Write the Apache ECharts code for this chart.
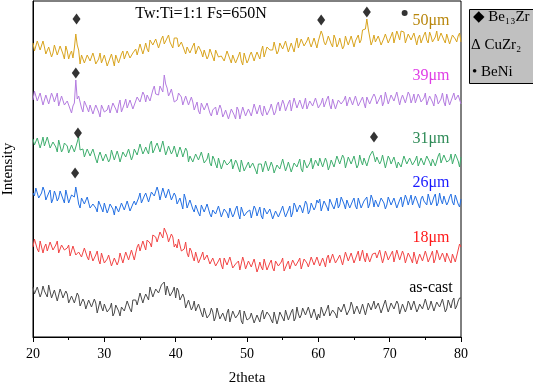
<!DOCTYPE html>
<html>
<head>
<meta charset="utf-8">
<script src="https://cdn.jsdelivr.net/npm/echarts/dist/echarts.min.js"></script>
<style>
  html, body { margin: 0; padding: 0; background: #fff; }
  #xrd { width: 533px; height: 385px; }
</style>
</head>
<body>
<div id="xrd"></div>
<script>
var myChart = echarts.init(document.getElementById('xrd'));

// 2theta sampling: 20 -> 80 deg, one point every 0.2 deg
var thetaStart = 20;
var thetaStep = 0.2;

// intensities (arbitrary units, stacked offsets as in the figure)
var s50 = [294,286,286,296,295,287,287,296,290,283,283,290,291,280,284,292,292,282,284,291,
  287,283,278,291,286,278,283,286,279,289,303,292,287,273,282,284,274,275,282,284,
  276,274,284,279,273,271,278,284,274,272,282,281,271,275,279,283,277,271,282,281,
  274,274,283,286,278,276,286,286,279,277,284,286,288,282,280,293,292,283,288,294,
  288,285,297,295,292,291,298,300,289,288,298,301,293,293,299,302,295,292,289,299,
  299,299,290,288,295,296,287,283,290,292,284,284,291,294,283,285,291,293,285,280,
  287,289,278,281,288,289,280,276,287,288,280,278,281,283,276,274,286,287,278,274,
  282,282,274,275,281,285,276,272,284,285,274,277,282,285,287,276,281,285,286,278,
  286,291,280,281,290,292,287,285,287,295,296,283,286,294,292,288,288,296,295,285,
  285,294,294,285,293,299,289,289,298,298,291,292,296,300,294,290,290,299,300,289,
  296,298,306,302,295,292,296,301,299,293,290,302,298,290,293,299,300,288,291,301,
  296,292,290,301,299,290,296,299,302,294,297,307,305,308,318,308,308,292,296,302,
  295,295,301,303,292,290,299,303,301,294,294,301,305,294,296,306,302,297,306,307,
  305,294,293,303,301,297,296,304,303,292,299,302,294,295,302,305,297,294,305,301,
  295,293,300,306,296,296,304,303,297,294,303,305,293,292,302,302,298,295,301,304,295];
var s39 = [237,246,245,236,238,244,243,232,233,242,240,233,234,244,240,235,237,244,231,230,
  241,239,232,231,236,237,228,224,231,234,257,238,241,235,229,225,236,237,229,225,
  232,232,223,224,232,234,225,220,232,232,225,224,227,232,224,222,234,231,228,224,
  232,237,225,227,233,238,229,230,237,239,228,228,236,240,241,235,235,245,242,235,
  242,244,236,237,247,251,243,241,242,251,252,245,262,253,249,241,244,248,249,235,
  236,237,244,242,240,232,234,241,241,232,231,240,235,227,231,235,226,223,234,235,
  227,225,234,232,224,221,227,228,230,222,221,232,228,220,223,227,229,218,220,228,
  225,222,218,230,227,218,224,230,229,221,222,228,227,221,221,233,232,223,224,232,
  224,221,231,231,222,225,228,233,231,222,225,232,235,226,227,237,233,226,230,234,
  237,226,226,239,234,229,229,237,237,228,233,239,228,226,236,236,231,229,239,238,
  229,228,234,239,230,230,238,241,232,228,238,236,228,227,237,239,233,231,237,241,
  231,233,240,242,232,230,241,239,231,230,237,240,234,229,240,241,233,234,240,243,
  240,233,233,239,242,231,235,245,239,233,233,242,242,236,235,245,245,232,238,242,
  241,234,233,245,242,234,238,243,234,232,243,240,235,235,239,244,232,232,241,241,
  235,231,243,240,233,235,238,244,235,231,243,243,232,234,240,244,237,235,242,243,233];
var s31 = [198,192,191,199,199,189,194,200,191,192,200,201,189,188,195,197,190,185,197,198,
  185,188,194,196,191,184,186,192,194,185,187,195,200,187,185,188,180,178,188,187,
  181,180,188,187,178,174,181,185,184,176,175,183,183,175,178,187,185,177,176,186,
  181,175,175,185,184,180,181,188,187,177,181,188,187,182,181,193,193,183,186,190,
  186,183,193,196,184,187,191,194,193,185,186,196,196,182,186,191,190,183,186,191,
  191,180,179,190,186,180,180,189,186,175,181,182,175,173,183,184,177,175,185,184,
  174,175,178,184,174,171,181,178,173,169,179,178,168,167,177,178,172,170,175,178,
  168,168,177,174,169,165,177,178,166,166,172,175,169,168,174,176,167,163,173,173,
  173,165,166,176,175,166,168,175,171,164,165,172,174,168,168,178,177,166,170,175,
  173,165,165,174,174,170,172,178,168,165,177,177,169,168,174,179,168,170,177,178,
  171,179,179,170,170,179,175,167,171,177,179,170,169,181,177,173,174,182,179,169,
  170,180,179,173,174,181,181,169,172,182,176,172,179,179,171,171,181,183,186,181,
  175,180,182,173,176,182,180,169,170,181,178,173,172,180,179,169,175,177,170,170,
  181,182,173,171,179,181,172,173,177,181,171,169,179,180,172,174,181,182,175,171,
  178,180,171,171,181,184,174,173,182,182,175,175,177,183,173,172,183,181,176,170,180];
var s26 = [144,141,149,151,139,141,144,150,146,137,138,144,147,134,138,146,142,136,139,146,
  145,138,134,147,141,134,136,142,143,140,150,142,133,129,139,140,133,131,140,139,
  129,128,133,134,129,125,136,138,129,125,134,134,124,128,133,135,128,122,131,132,
  125,124,134,136,127,126,136,136,126,126,133,136,132,132,139,144,134,133,141,144,
  143,135,137,145,147,141,141,150,145,137,139,149,148,139,140,148,148,137,139,144,
  141,133,131,139,139,128,143,138,129,130,137,138,128,125,132,133,124,121,132,133,
  125,124,133,132,123,120,127,128,123,122,131,133,120,120,128,128,124,119,129,129,
  120,123,128,131,123,118,130,130,121,121,125,127,127,119,118,131,128,121,122,130,
  121,118,129,128,123,122,128,129,118,117,126,127,120,120,127,131,125,120,120,127,
  131,120,124,134,131,125,125,132,129,124,124,136,133,123,126,134,136,127,130,137,
  134,138,126,128,136,138,130,126,138,136,131,128,133,139,129,132,140,141,133,128,
  137,138,129,131,136,139,131,128,139,141,129,131,136,137,140,129,133,142,138,130,
  137,138,130,131,139,141,134,128,132,140,141,132,131,139,137,129,133,137,140,130,
  129,142,138,132,137,142,132,133,141,141,133,129,138,141,136,135,132,143,141,132,
  135,140,143,131,134,144,137,133,141,142,132,135,140,143,135,132,142,141,133,130,138];
var s18 = [90,98,96,88,85,96,94,84,90,93,86,85,95,96,87,87,92,96,84,83,
  92,92,87,85,89,92,81,80,91,92,82,81,85,86,80,78,89,90,80,77,
  86,85,76,77,82,86,77,73,84,84,74,75,78,82,80,71,71,79,79,72,
  76,84,84,74,76,85,84,77,77,87,85,77,84,90,93,86,86,96,95,87,
  97,97,94,90,102,104,100,95,94,105,105,99,109,107,102,95,94,103,100,90,
  93,89,98,98,86,87,88,95,84,80,89,86,80,76,85,86,74,76,81,85,
  77,76,82,84,73,72,79,79,71,70,76,79,72,68,79,80,72,71,80,80,
  69,70,73,75,76,67,69,80,75,68,66,76,76,70,71,78,77,65,69,75,
  70,67,78,78,67,68,74,77,69,66,76,74,71,69,75,79,66,67,73,76,
  68,66,77,75,71,71,76,79,68,66,78,79,74,70,71,80,81,72,73,80,
  79,71,71,79,75,70,79,82,74,75,83,85,74,73,79,82,82,72,73,85,
  84,76,77,84,82,74,76,82,86,76,77,87,79,75,84,83,75,74,83,85,
  84,79,78,87,85,74,79,86,82,77,75,83,86,75,77,87,85,77,76,86,
  82,74,79,84,83,78,74,85,84,73,78,83,85,76,77,86,81,75,76,82,
  86,74,78,87,83,77,75,84,80,75,84,86,77,74,83,84,75,77,87,93,90];
var sCast = [50,43,44,50,50,40,44,51,46,43,40,52,50,39,40,47,48,36,38,48,
  44,39,40,46,43,34,33,41,42,34,35,44,41,31,32,38,35,28,29,37,
  38,30,30,38,34,24,26,36,30,26,33,32,25,23,29,34,21,24,32,33,
  26,21,30,32,26,27,36,35,28,25,37,37,37,32,33,44,43,34,39,43,
  41,37,50,51,40,42,48,50,44,42,52,54,55,42,51,51,41,43,46,50,
  39,49,46,37,36,43,39,29,29,37,36,27,30,36,26,27,33,34,24,20,
  29,29,19,21,23,29,25,16,20,29,27,18,18,24,23,16,24,28,15,16,
  26,24,19,17,23,27,16,13,26,25,17,17,19,24,24,14,15,22,22,15,
  23,27,18,16,25,26,21,17,14,25,24,13,18,25,23,19,16,27,25,17,
  21,25,28,16,19,30,23,19,22,29,29,22,21,30,28,19,18,28,26,17,
  23,19,30,31,21,22,28,32,21,20,27,28,23,19,30,31,25,23,33,33,
  22,25,28,35,31,23,24,31,31,23,23,33,33,22,28,34,35,27,27,36,
  28,26,34,32,24,24,33,37,30,25,26,34,35,28,28,36,33,23,25,33,
  34,25,29,36,33,27,25,36,36,25,28,33,32,28,27,38,38,27,30,36,
  36,26,27,35,34,30,29,38,37,25,28,37,33,29,36,39,28,31,36,39,39];

// phase markers [2theta, height]
var be13zr = [[26.1,318],[60.4,317],[66.8,325],[26.0,264],[26.3,204],[67.8,200],[25.9,164]];
var cuzr2 = [[53.4,308]];
var beni = [[72.1,324]];

var sampleNames = ['50μm', '39μm', '31μm', '26μm', '18μm', 'as-cast'];
var lineColors = ['#d9a41e', '#b47ce0', '#3fae6e', '#2470e3', '#f24545', '#4a4a4a'];
var labelColors = ['#b8860b', '#e03ee6', '#2e8b57', '#1a1aff', '#ff1a1a', '#000000'];

var serif = "'Liberation Serif', 'DejaVu Serif', serif";

function toPairs(arr) {
    var out = [];
    for (var i = 0; i < arr.length; i++) {
        out.push([+(thetaStart + i * thetaStep).toFixed(1), arr[i]]);
    }
    return out;
}

var traces = [s50, s39, s31, s26, s18, sCast];
var series = [];
for (var k = 0; k < traces.length; k++) {
    series.push({
        name: sampleNames[k],
        type: 'line',
        data: toPairs(traces[k]),
        showSymbol: false,
        silent: true,
        lineStyle: { width: 1, color: lineColors[k] },
        z: 2
    });
}
series.push({
    name: 'Be13Zr', type: 'scatter', data: be13zr,
    symbol: 'diamond', symbolSize: [8, 11],
    itemStyle: { color: '#000' }, z: 5
});
series.push({
    name: 'BeNi', type: 'scatter', data: beni,
    symbol: 'circle', symbolSize: 6,
    itemStyle: { color: '#000' }, z: 5
});
series.push({
    name: 'CuZr2', type: 'scatter', data: cuzr2,
    symbolSize: 1, itemStyle: { opacity: 0 },
    label: { show: true, position: 'inside', formatter: 'Δ', color: '#000', fontSize: 15, fontFamily: serif },
    z: 5
});

// sample labels, right side of the frame
var labelY = [21, 76, 139, 183, 238, 288];
var graphics = [];
for (var j = 0; j < sampleNames.length; j++) {
    graphics.push({
        type: 'text', x: 431, y: labelY[j],
        style: { text: sampleNames[j], fill: labelColors[j], font: '16px ' + serif, textAlign: 'center', textVerticalAlign: 'middle' }
    });
}
graphics.push({
    type: 'text', x: 201, y: 14,
    style: { text: 'Tw:Ti=1:1 Fs=650N', fill: '#000', font: '16px ' + serif, textAlign: 'center', textVerticalAlign: 'middle' }
});
// phase key box
graphics.push({
    type: 'rect', shape: { x: 469.5, y: 9.5, width: 80, height: 74 },
    style: { fill: '#c0c0c0', stroke: '#000', lineWidth: 1 }
});
graphics.push({ type: 'text', x: 473, y: 17, style: { text: '◆ Be₁₃Zr', fill: '#000', font: '15px ' + serif, textVerticalAlign: 'middle' } });
graphics.push({ type: 'text', x: 471, y: 45, style: { text: 'Δ CuZr₂', fill: '#000', font: '15px ' + serif, textVerticalAlign: 'middle' } });
graphics.push({ type: 'text', x: 472, y: 72, style: { text: '• BeNi', fill: '#000', font: '15px ' + serif, textVerticalAlign: 'middle' } });

option = {
    animation: false,
    backgroundColor: '#fff',
    grid: {
        left: 33,
        right: 72,
        top: 1,
        bottom: 48,
        containLabel: false,
        outerBoundsMode: 'none',
        show: true,
        borderColor: '#000',
        borderWidth: 1
    },
    xAxis: {
        type: 'value',
        min: 20,
        max: 80,
        interval: 10,
        name: '2theta',
        nameLocation: 'middle',
        nameGap: 34,
        nameTextStyle: { color: '#000', fontSize: 15, fontFamily: serif },
        axisLine: { lineStyle: { color: '#000', width: 1 } },
        axisTick: { show: true, length: 5, lineStyle: { color: '#000' } },
        minorTick: { show: true, splitNumber: 2, length: 3, lineStyle: { color: '#000' } },
        axisLabel: { color: '#000', fontSize: 14, fontFamily: serif, margin: 10 },
        splitLine: { show: false }
    },
    yAxis: {
        type: 'value',
        min: 0,
        max: 336,
        name: 'Intensity',
        nameLocation: 'middle',
        nameGap: 17,
        nameTextStyle: { color: '#000', fontSize: 15, fontFamily: serif },
        axisLine: { show: true, lineStyle: { color: '#000', width: 1 } },
        axisTick: { show: false },
        axisLabel: { show: false },
        splitLine: { show: false }
    },
    graphic: graphics,
    series: series
};

myChart.setOption(option);
</script>
</body>
</html>
